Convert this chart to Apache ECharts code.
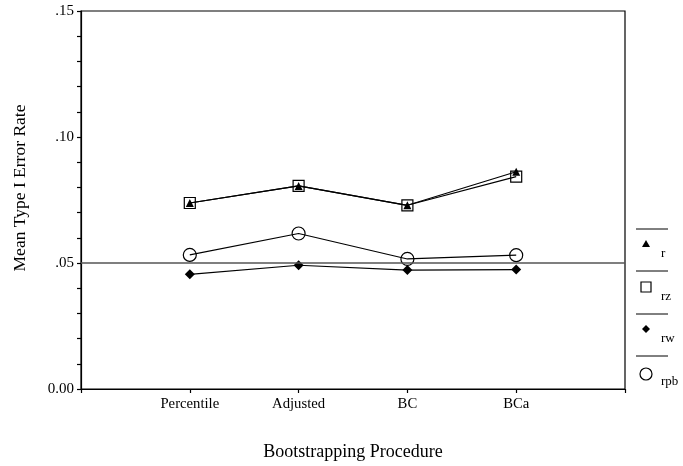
<!DOCTYPE html>
<html>
<head>
<meta charset="utf-8">
<script src="https://cdn.jsdelivr.net/npm/echarts@6/dist/echarts.min.js"></script>
<style>
  html, body { margin: 0; padding: 0; background: #fff; }
  #chart { width: 683px; height: 466px; }
</style>
</head>
<body>
<div id="chart"></div>
<script>
// categories (blank ends pad the axis like the original)
var procedures = ['', 'Percentile', 'Adjusted', 'BC', 'BCa', ''];

// mean type I error rates
var rValues = [null, 0.0738, 0.0806, 0.0729, 0.0862, null];
var rzValues = [null, 0.0738, 0.0806, 0.0729, 0.0843, null];
var rwValues = [null, 0.0455, 0.0491, 0.0472, 0.0474, null];
var rpbValues = [null, 0.0532, 0.0617, 0.0516, 0.0531, null];

var nominalAlpha = 0.05;
var legendNames = ['r', 'rz', 'rw', 'rpb'];

var serif = '"Liberation Serif", "DejaVu Serif", serif';
var chart = echarts.init(document.getElementById('chart'));

function yLabel(v) {
  var k = Math.round(v * 100);
  if (k % 5 !== 0) return '';
  if (k === 0) return '0.00';
  return '.' + (k < 10 ? '0' + k : k);
}

function lineSeries(name, data, symbol, size, filled, extra) {
  var s = {
    name: name,
    type: 'line',
    data: data,
    symbol: symbol,
    symbolSize: size,
    showSymbol: true,
    connectNulls: false,
    lineStyle: { color: '#000', width: 1.2 },
    itemStyle: filled
      ? { color: '#000', borderColor: '#000', borderWidth: 0 }
      : { color: 'rgba(255,255,255,0)', borderColor: '#000', borderWidth: 1.2 },
    emphasis: { disabled: true },
    animation: false
  };
  return Object.assign(s, extra || {});
}

// legend drawn by hand: separators, markers and labels
var legendGraphics = [];
var sepY = [229, 271, 314, 356];
var textY = [254, 297, 339, 382];
var markers = [
  { type: 'polygon', shape: { points: [[646, 240], [650, 247], [642, 247]] }, style: { fill: '#000' } },
  { type: 'rect', shape: { x: 641, y: 282, width: 10, height: 10 }, style: { fill: 'none', stroke: '#000', lineWidth: 1.2 } },
  { type: 'polygon', shape: { points: [[646, 325], [650, 329], [646, 333], [642, 329]] }, style: { fill: '#000' } },
  { type: 'circle', shape: { cx: 646, cy: 374, r: 6 }, style: { fill: 'none', stroke: '#000', lineWidth: 1.2 } }
];
for (var i = 0; i < legendNames.length; i++) {
  legendGraphics.push({
    type: 'line',
    shape: { x1: 636, y1: sepY[i], x2: 668, y2: sepY[i] },
    style: { stroke: '#000', lineWidth: 1 }
  });
  legendGraphics.push(markers[i]);
  legendGraphics.push({
    type: 'text',
    x: 661,
    y: textY[i],
    style: { text: legendNames[i], font: '13px ' + serif, fill: '#000', verticalAlign: 'middle' }
  });
}

var option = {
  backgroundColor: '#fff',
  animation: false,
  grid: {
    left: 81, right: 58, top: 11, bottom: 77,
    outerBoundsMode: 'none',
    containLabel: false,
    show: true, borderColor: '#000', borderWidth: 1.2, backgroundColor: 'transparent'
  },
  xAxis: {
    type: 'category',
    data: procedures,
    boundaryGap: false,
    name: 'Bootstrapping Procedure',
    nameLocation: 'middle',
    nameGap: 54,
    nameTextStyle: { fontFamily: serif, fontSize: 18, color: '#000' },
    axisLine: { lineStyle: { color: '#000', width: 1.2 } },
    axisTick: { show: true, interval: 0, length: 4, lineStyle: { color: '#000', width: 1.2 } },
    axisLabel: { interval: 0, margin: 8, fontFamily: serif, fontSize: 14.7, color: '#000' },
    splitLine: { show: false }
  },
  yAxis: {
    type: 'value',
    min: 0,
    max: 0.15,
    interval: 0.01,
    name: 'Mean Type I Error Rate',
    nameLocation: 'middle',
    nameGap: 52,
    nameTextStyle: { fontFamily: serif, fontSize: 17.5, color: '#000', padding: [0, 0, 0, 24] },
    axisLine: { show: true, lineStyle: { color: '#000', width: 1.2 } },
    axisTick: { show: true, length: 4, lineStyle: { color: '#000', width: 1.2 } },
    axisLabel: { formatter: yLabel, margin: 7, fontFamily: serif, fontSize: 15, color: '#000' },
    splitLine: { show: false }
  },
  series: [
    lineSeries('rw', rwValues, 'diamond', 10, true),
    lineSeries('rpb', rpbValues, 'circle', 13, false, {
      markLine: {
        silent: true,
        symbol: 'none',
        label: { show: false },
        lineStyle: { color: '#555', width: 1.5, type: 'solid' },
        data: [{ yAxis: nominalAlpha }]
      }
    }),
    lineSeries('rz', rzValues, 'rect', 11, false),
    lineSeries('r', rValues, 'triangle', 8, true)
  ],
  graphic: legendGraphics
};

chart.setOption(option);
</script>
</body>
</html>
